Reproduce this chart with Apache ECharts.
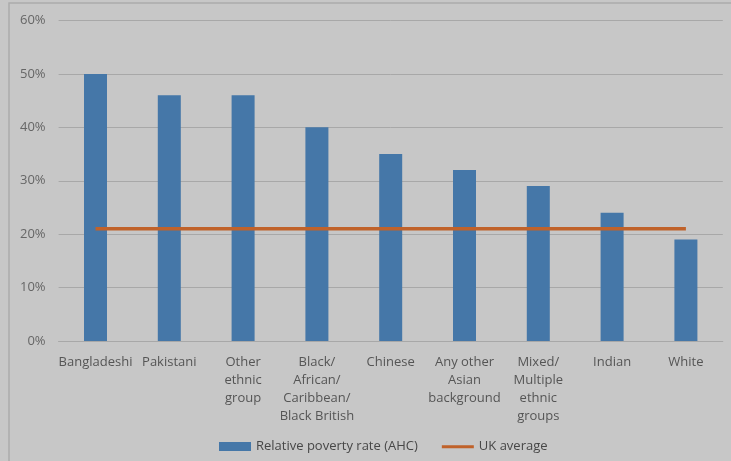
<!DOCTYPE html>
<html>
<head>
<meta charset="utf-8">
<script src="https://cdn.jsdelivr.net/npm/echarts@6/dist/echarts.min.js"></script>
<style>
html,body{margin:0;padding:0;background:#c7c7c7;}
#c{width:731px;height:461px;}
</style>
</head>
<body>
<div id="c"></div>
<script>
var categories = ["Bangladeshi", "Pakistani", "Other\nethnic\ngroup", "Black/\nAfrican/\nCaribbean/\nBlack British", "Chinese", "Any other\nAsian\nbackground", "Mixed/\nMultiple\nethnic\ngroups", "Indian", "White"];
var povertyRate = [50, 46, 46, 40, 35, 32, 29, 24, 19];
var ukAverage = [21, 21, 21, 21, 21, 21, 21, 21, 21];
var seriesNames = ["Relative poverty rate (AHC)", "UK average"];

var chart = echarts.init(document.getElementById('c'), null, {renderer: 'canvas'});
var font = "'Open Sans', 'Liberation Sans', sans-serif";
chart.setOption({
  backgroundColor: '#c7c7c7',
  animation: false,
  textStyle: {fontFamily: font},
  graphic: [{
    type: 'rect',
    shape: {x: 9, y: 3, width: 740, height: 480},
    style: {fill: 'none', stroke: '#acacac', lineWidth: 1.5},
    silent: true
  }],
  grid: {left: 58.6, right: 8.2, top: 20.5, bottom: 120},
  legend: {
    bottom: 3,
    left: 214,
    itemWidth: 32,
    itemHeight: 9,
    itemGap: 24,
    textStyle: {color: '#474747', fontSize: 13, fontFamily: font},
    data: [
      {name: seriesNames[0], icon: 'rect'},
      {name: seriesNames[1], icon: 'path://M0,0L0.01,0L0.01,0.01Z M0,3.3L32,3.3L32,6.2L0,6.2Z M0,9L0.01,9L0.01,8.99Z'}
    ]
  },
  xAxis: {
    type: 'category',
    data: categories,
    boundaryGap: true,
    axisLine: {show: true, lineStyle: {color: '#a8a8a8', width: 1}},
    axisTick: {show: false},
    axisLabel: {color: '#555', fontSize: 13, lineHeight: 18, margin: 12, interval: 0, fontFamily: font}
  },
  yAxis: {
    type: 'value',
    min: 0, max: 60, interval: 10,
    axisLine: {show: false},
    axisTick: {show: false},
    splitLine: {lineStyle: {color: '#a8a8a8', width: 1}},
    axisLabel: {formatter: '{value}%', color: '#666', fontSize: 13, margin: 13, fontFamily: font}
  },
  series: [
    {
      name: seriesNames[0],
      type: 'bar',
      data: povertyRate,
      barWidth: 23,
      itemStyle: {color: '#4577a8'}
    },
    {
      name: seriesNames[1],
      type: 'line',
      data: ukAverage,
      symbol: 'none',
      showSymbol: false,
      lineStyle: {color: '#c0622a', width: 3.5},
      itemStyle: {color: '#c0622a'}
    }
  ]
});
</script>
</body>
</html>
